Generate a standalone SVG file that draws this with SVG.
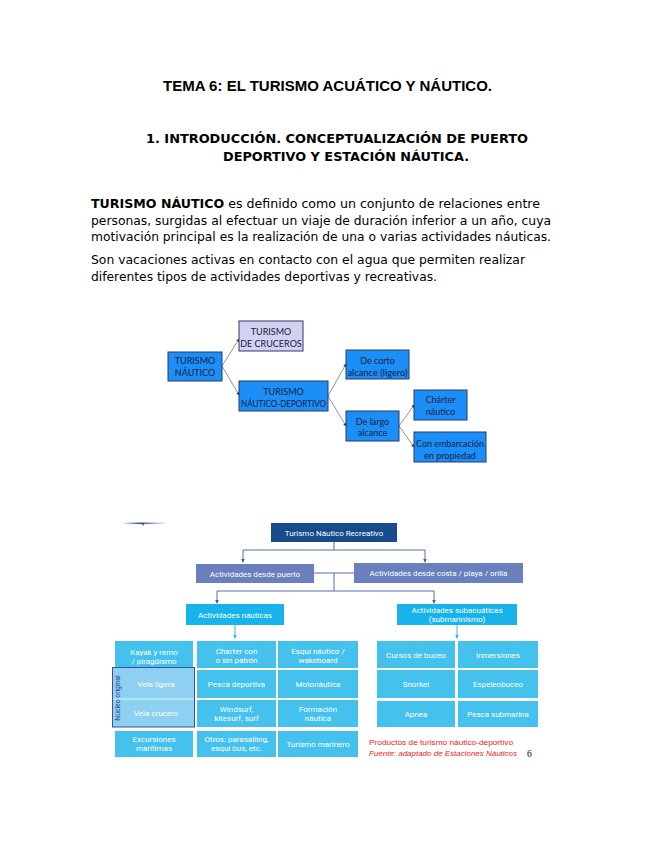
<svg xmlns="http://www.w3.org/2000/svg" width="655" height="848" viewBox="0 0 655 848">
<defs>
<style>
.title{font-family:"Liberation Sans",Arial,sans-serif;font-weight:bold;font-size:15px;fill:#000}
.head{font-family:"DejaVu Sans",sans-serif;font-weight:bold;font-size:13px;fill:#000}
.body{font-family:"DejaVu Sans",sans-serif;font-size:12px;fill:#000}
.tb{stroke:#2b3a66;stroke-width:1}
.tblue{fill:#1c8ef7}
.tt{font-family:Lato,"Liberation Sans",sans-serif;font-size:9px;fill:#14213d;text-anchor:middle}
.tc{stroke:#777;stroke-width:0.8;fill:none;marker-end:url(#ah)}
.bt{font-family:Roboto,"Open Sans",sans-serif;font-size:8px;fill:#fff;text-anchor:middle}
.cell{fill:#45c1ee}
.bc{stroke:#5570aa;stroke-width:1;fill:none}
.red{font-family:"Liberation Sans",Arial,sans-serif;font-size:7.4px;fill:#e3241d}
</style>
<marker id="ah" viewBox="0 0 6 6" refX="5" refY="3" markerWidth="4" markerHeight="4" orient="auto"><path d="M0,0 L6,3 L0,6 z" fill="#333"/></marker>
<marker id="bh" viewBox="0 0 6 6" refX="5" refY="3" markerWidth="4" markerHeight="4" orient="auto"><path d="M0,0 L6,3 L0,6 z" fill="#3f5ea0"/></marker>
<marker id="ch" viewBox="0 0 6 6" refX="5" refY="3" markerWidth="4" markerHeight="4" orient="auto"><path d="M0,0 L6,3 L0,6 z" fill="#38b6ea"/></marker>
<linearGradient id="fade" x1="0" x2="1" y1="0" y2="0">
<stop offset="0" stop-color="#ffffff"/><stop offset="0.4" stop-color="#3d4f99"/><stop offset="1" stop-color="#ffffff"/>
</linearGradient>
</defs>
<rect width="655" height="848" fill="#fff"/>

<g id="text">
<text class="title" x="163" y="91" textLength="329" lengthAdjust="spacingAndGlyphs">TEMA 6: EL TURISMO ACUÁTICO Y NÁUTICO.</text>
<text class="head" x="146" y="143" textLength="382" lengthAdjust="spacingAndGlyphs">1. INTRODUCCIÓN. CONCEPTUALIZACIÓN DE PUERTO</text>
<text class="head" x="223" y="161" textLength="246" lengthAdjust="spacingAndGlyphs">DEPORTIVO Y ESTACIÓN NÁUTICA.</text>
<text class="body" x="91" y="208" textLength="449" lengthAdjust="spacingAndGlyphs"><tspan font-weight="bold">TURISMO NÁUTICO</tspan> es definido como un conjunto de relaciones entre</text>
<text class="body" x="91" y="225" textLength="460" lengthAdjust="spacingAndGlyphs">personas, surgidas al efectuar un viaje de duración inferior a un año, cuya</text>
<text class="body" x="91" y="241" textLength="460" lengthAdjust="spacingAndGlyphs">motivación principal es la realización de una o varias actividades náuticas.</text>
<text class="body" x="91" y="264" textLength="434" lengthAdjust="spacingAndGlyphs">Son vacaciones activas en contacto con el agua que permiten realizar</text>
<text class="body" x="91" y="281" textLength="346" lengthAdjust="spacingAndGlyphs">diferentes tipos de actividades deportivas y recreativas.</text>
</g>

<g id="top-connectors">
<path class="tc" d="M222,366 L239,339"/>
<path class="tc" d="M222,366 L239,395"/>
<path class="tc" d="M328,396 L346,364"/>
<path class="tc" d="M328,396 L346,426"/>
<path class="tc" d="M399,426 L414,405"/>
<path class="tc" d="M399,426 L414,447"/>
</g>

<g id="n-turismo-nautico">
<rect class="tb tblue" x="168" y="352" width="54" height="29"/>
<text class="tt" x="195" y="364">TURISMO</text>
<text class="tt" x="195" y="376">NÁUTICO</text>
</g>
<g id="n-cruceros">
<rect class="tb" fill="#d2d1f1" x="239" y="321" width="64" height="30"/>
<text class="tt" x="271" y="334.5">TURISMO</text>
<text class="tt" x="271" y="346.5">DE CRUCEROS</text>
</g>
<g id="n-deportivo">
<rect class="tb tblue" x="239" y="381" width="89" height="30"/>
<text class="tt" x="283.5" y="394.5">TURISMO</text>
<text class="tt" x="283.5" y="406.5" textLength="85" lengthAdjust="spacingAndGlyphs">NÁUTICO-DEPORTIVO</text>
</g>
<g id="n-corto">
<rect class="tb tblue" x="346" y="350" width="63" height="29"/>
<text class="tt" x="377.5" y="363.5">De corto</text>
<text class="tt" x="377.5" y="376" textLength="60" lengthAdjust="spacingAndGlyphs">alcance (ligero)</text>
</g>
<g id="n-largo">
<rect class="tb tblue" x="346" y="411" width="53" height="30"/>
<text class="tt" x="372.5" y="424.5">De largo</text>
<text class="tt" x="372.5" y="436">alcance</text>
</g>
<g id="n-charter">
<rect class="tb tblue" x="414" y="390" width="53" height="30"/>
<text class="tt" x="440.5" y="402.5">Chárter</text>
<text class="tt" x="440.5" y="415">náutico</text>
</g>
<g id="n-propiedad">
<rect class="tb tblue" x="414" y="432" width="72" height="30"/>
<text class="tt" x="450" y="446.5" textLength="68" lengthAdjust="spacingAndGlyphs">Con embarcación</text>
<text class="tt" x="450" y="458.5">en propiedad</text>
</g>

<g id="artifact">
<rect x="122" y="522.5" width="45" height="1.6" fill="url(#fade)"/>
<rect x="142.5" y="523" width="1" height="2.5" fill="#222"/>
</g>

<g id="bottom-connectors">
<path class="bc" d="M334,542 V550 M243,550 H425"/>
<path class="bc" d="M243,550 V562" marker-end="url(#bh)"/>
<path class="bc" d="M425,550 V562" marker-end="url(#bh)"/>
<path class="bc" d="M314,573 H354 M334,573 V591 M217,591 H434"/>
<path class="bc" d="M217,591 V603" marker-end="url(#bh)"/>
<path class="bc" d="M434,591 V603" marker-end="url(#bh)"/>
<path stroke="#38b6ea" stroke-width="1" d="M235,625 V638" marker-end="url(#ch)"/>
<path stroke="#38b6ea" stroke-width="1" d="M457,625 V638" marker-end="url(#ch)"/>
</g>

<g id="n-recreativo">
<rect x="271" y="523" width="126" height="19" fill="#164b8c"/>
<text class="bt" x="334" y="535.5" font-size="8.6">Turismo Náutico Recreativo</text>
</g>
<g id="n-puerto">
<rect x="196" y="564" width="118" height="19" fill="#6a7fbd"/>
<text class="bt" x="255" y="576.5">Actividades desde puerto</text>
</g>
<g id="n-costa">
<rect x="354" y="563" width="169" height="20" fill="#6a7fbd"/>
<text class="bt" x="438.5" y="576">Actividades desde costa / playa / orilla</text>
</g>
<g id="n-nauticas">
<rect x="186" y="604" width="98" height="21" fill="#18b3ea"/>
<text class="bt" x="235" y="617.5">Actividades náuticas</text>
</g>
<g id="n-subacuaticas">
<rect x="397" y="604" width="120" height="21" fill="#18b3ea"/>
<text class="bt" x="457" y="613">Actividades subacuáticas</text>
<text class="bt" x="457" y="622" font-size="5.5">(submarinismo)</text>
</g>

<g id="grid-left">
<rect class="cell" x="115" y="641" width="78" height="27"/>
<text class="bt" x="154" y="655">Kayak y remo</text><text class="bt" x="154" y="664">/ piragüismo</text>
<rect class="cell" x="197" y="641" width="79" height="27"/>
<text class="bt" x="236.5" y="654">Charter con</text><text class="bt" x="236.5" y="663">o sin patrón</text>
<rect class="cell" x="278" y="641" width="80" height="27"/>
<text class="bt" x="318" y="654">Esquí náutico /</text><text class="bt" x="318" y="663">wakeboard</text>

<rect class="cell" x="197" y="670" width="79" height="28"/>
<text class="bt" x="236.5" y="687">Pesca deportiva</text>
<rect class="cell" x="278" y="670" width="80" height="28"/>
<text class="bt" x="318" y="687">Motonáutica</text>

<rect class="cell" x="197" y="700" width="79" height="27"/>
<text class="bt" x="236.5" y="711.5">Windsurf,</text><text class="bt" x="236.5" y="720.5">kitesurf, surf</text>
<rect class="cell" x="278" y="700" width="80" height="27"/>
<text class="bt" x="318" y="711.5">Formación</text><text class="bt" x="318" y="720.5">náutica</text>

<rect class="cell" x="115" y="731" width="78" height="26"/>
<text class="bt" x="154" y="742">Excursiones</text><text class="bt" x="154" y="751">marítimas</text>
<rect class="cell" x="197" y="731" width="79" height="26"/>
<text class="bt" x="236.5" y="742">Otros: parasailing,</text><text class="bt" x="236.5" y="751">esquí bus, etc.</text>
<rect class="cell" x="278" y="731" width="80" height="26"/>
<text class="bt" x="318" y="747">Turismo marinero</text>
</g>

<g id="nucleo-original">
<rect x="112.5" y="667.5" width="82" height="59.5" fill="#8dd0f1" stroke="#3d4f99" stroke-width="1"/>
<line x1="113" y1="699" x2="194" y2="699" stroke="#e6f4fb" stroke-width="1.2"/>
<text class="bt" x="156" y="687" fill="#e8f6fd">Vela ligera</text>
<text class="bt" x="156" y="716" fill="#e8f6fd">Vela crucero</text>
<text x="0" y="0" transform="translate(119.5,698) rotate(-90)" font-family="Roboto,'Open Sans',sans-serif" font-size="6.8" fill="#2b3f8f" text-anchor="middle">Núcleo original</text>
</g>

<g id="grid-right">
<rect class="cell" x="377" y="641" width="78" height="27"/>
<text class="bt" x="416" y="657.5">Cursos de buceo</text>
<rect class="cell" x="458" y="641" width="80" height="27"/>
<text class="bt" x="498" y="657.5">Inmersiones</text>
<rect class="cell" x="377" y="670" width="78" height="28"/>
<text class="bt" x="416" y="687">Snorkel</text>
<rect class="cell" x="458" y="670" width="80" height="28"/>
<text class="bt" x="498" y="687">Espeleobuceo</text>
<rect class="cell" x="377" y="701" width="78" height="26"/>
<text class="bt" x="416" y="717">Apnea</text>
<rect class="cell" x="458" y="701" width="80" height="26"/>
<text class="bt" x="498" y="717">Pesca submarina</text>
</g>

<g id="caption">
<text class="red" x="369" y="745" textLength="144" lengthAdjust="spacingAndGlyphs">Productos de turismo náutico-deportivo</text>
<text class="red" x="369" y="756" font-style="italic" textLength="148" lengthAdjust="spacingAndGlyphs">Fuente: adaptado de Estaciones Náuticos</text>
<text x="527" y="757" font-family="'Liberation Serif',serif" font-size="9.5" fill="#000">6</text>
</g>
</svg>
